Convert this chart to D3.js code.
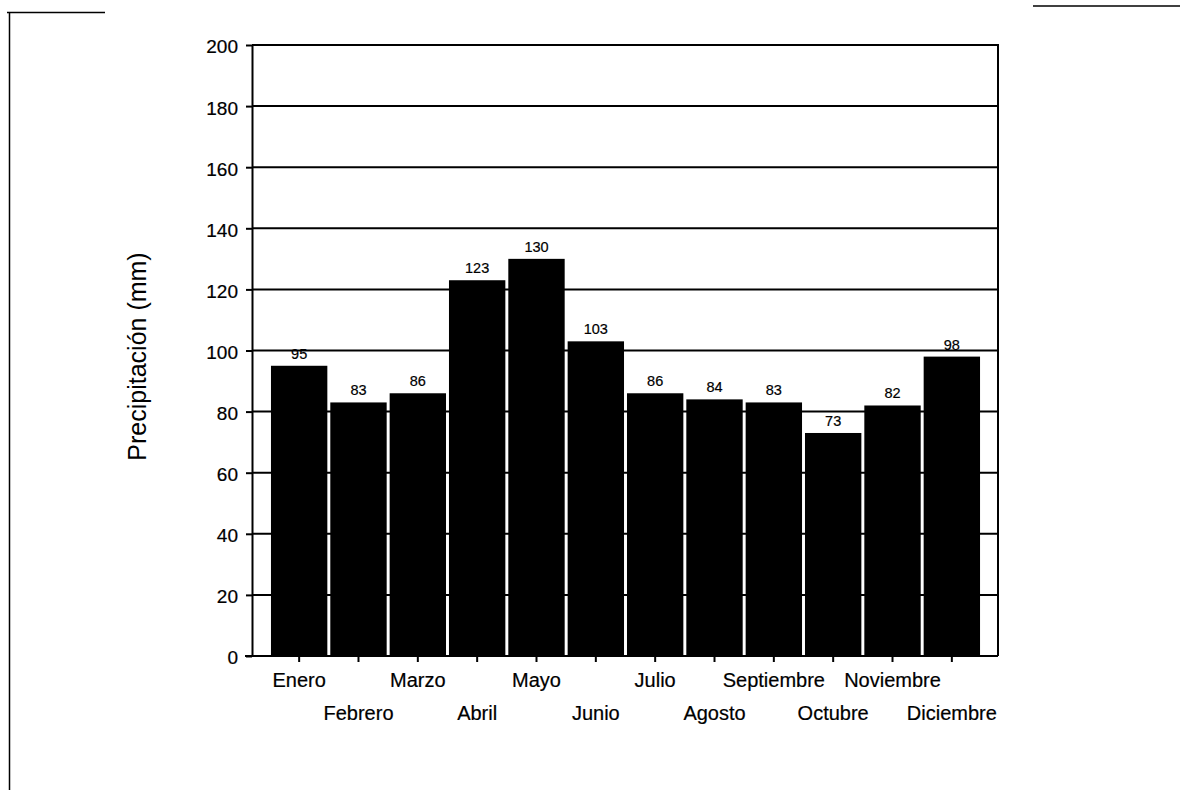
<!DOCTYPE html>
<html lang="es">
<head>
<meta charset="utf-8">
<title>Precipitación mensual</title>
<script src="https://cdn.jsdelivr.net/npm/d3@7/dist/d3.min.js"></script>
<style>
  html, body { margin: 0; padding: 0; background: #fff; }
  svg { display: block; }
  text { font-family: "Liberation Sans", Arial, Helvetica, sans-serif; fill: #000; }
</style>
</head>
<body>
<svg id="chart" width="1183" height="790"></svg>
<script>
// Monthly precipitation (mm)
const months = ["Enero", "Febrero", "Marzo", "Abril", "Mayo", "Junio",
                "Julio", "Agosto", "Septiembre", "Octubre", "Noviembre", "Diciembre"];
const precipitation = [95, 83, 86, 123, 130, 103, 86, 84, 83, 73, 82, 98];
const yTicks = [0, 20, 40, 60, 80, 100, 120, 140, 160, 180, 200];
const yTitle = "Precipitación (mm)";

const svg = d3.select("#chart");

// plot frame
const plot = { left: 252, right: 998, top: 45, bottom: 656 };

const y = d3.scaleLinear().domain([0, 200]).range([plot.bottom, plot.top]);
const x = d3.scaleBand()
  .domain(months)
  .range([268, 983])
  .paddingInner(0.05)
  .paddingOuter(0.05);

// page frame marks
const frame = svg.append("g").attr("stroke", "#000").attr("fill", "none");
frame.append("line").attr("x1", 7).attr("x2", 105).attr("y1", 12.5).attr("y2", 12.5).attr("stroke-width", 1.5);
frame.append("line").attr("x1", 9.5).attr("x2", 9.5).attr("y1", 12).attr("y2", 790).attr("stroke-width", 1.5);
frame.append("line").attr("x1", 1033).attr("x2", 1180).attr("y1", 6).attr("y2", 6).attr("stroke-width", 1.5);

// horizontal gridlines
svg.append("g")
  .selectAll("line")
  .data(yTicks.filter(d => d > 0))
  .join("line")
  .attr("x1", plot.left)
  .attr("x2", plot.right)
  .attr("y1", d => y(d))
  .attr("y2", d => y(d))
  .attr("stroke", "#000")
  .attr("stroke-width", 2);

// right border
svg.append("line")
  .attr("x1", plot.right).attr("x2", plot.right)
  .attr("y1", plot.top - 1).attr("y2", plot.bottom)
  .attr("stroke", "#000").attr("stroke-width", 2);

// bars
svg.append("g")
  .selectAll("rect")
  .data(months)
  .join("rect")
  .attr("x", d => x(d))
  .attr("width", x.bandwidth())
  .attr("y", (d, i) => y(precipitation[i]))
  .attr("height", (d, i) => y(0) - y(precipitation[i]))
  .attr("fill", "#000");

// value labels
svg.append("g")
  .selectAll("text")
  .data(months)
  .join("text")
  .attr("x", d => x(d) + x.bandwidth() / 2)
  .attr("y", (d, i) => y(precipitation[i]) - 7)
  .attr("text-anchor", "middle")
  .attr("font-size", 14.5)
  .attr("stroke", "#000")
  .attr("stroke-width", 0.2)
  .text((d, i) => precipitation[i]);

// y axis
const yAxis = svg.append("g")
  .attr("transform", `translate(${plot.left},0)`)
  .call(d3.axisLeft(y).tickValues(yTicks).tickSize(6).tickPadding(8).tickSizeOuter(0));
yAxis.select(".domain").attr("stroke", "#000").attr("stroke-width", 2);
yAxis.selectAll(".tick line").attr("stroke", "#000").attr("stroke-width", 2);
yAxis.selectAll(".tick text")
  .attr("font-size", 19)
  .attr("font-family", "'Liberation Sans', Arial, sans-serif")
  .attr("fill", "#000")
  .attr("stroke", "#000")
  .attr("stroke-width", 0.2)
  .attr("dy", "0.42em");

// x axis
const xAxis = svg.append("g")
  .attr("transform", `translate(0,${plot.bottom})`)
  .call(d3.axisBottom(x).tickSize(6).tickSizeOuter(0));
xAxis.select(".domain")
  .attr("d", `M${plot.left - 7},0H${plot.right}`)
  .attr("stroke", "#000").attr("stroke-width", 2);
xAxis.selectAll(".tick line").attr("stroke", "#000").attr("stroke-width", 2);
xAxis.selectAll(".tick text")
  .attr("font-size", 20)
  .attr("font-family", "'Liberation Sans', Arial, sans-serif")
  .attr("fill", "#000")
  .attr("stroke", "#000")
  .attr("stroke-width", 0.2)
  .attr("dy", null)
  .attr("y", (d, i) => (i % 2 === 0 ? 31 : 64));

// y axis title
svg.append("text")
  .attr("transform", `translate(146,${(250 + 463) / 2}) rotate(-90)`)
  .attr("text-anchor", "middle")
  .attr("font-size", 25)
  .text(yTitle);
</script>
</body>
</html>
